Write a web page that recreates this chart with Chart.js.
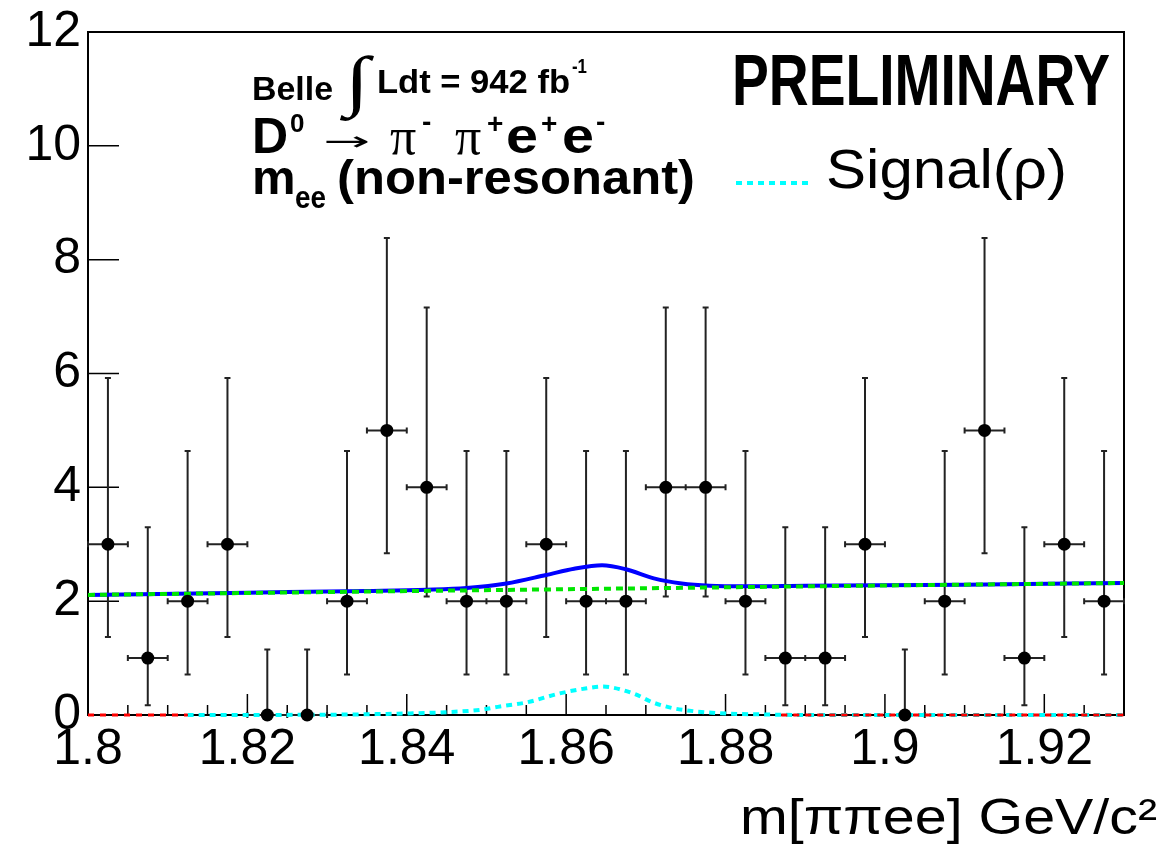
<!DOCTYPE html>
<html>
<head>
<meta charset="utf-8">
<script src="https://cdn.jsdelivr.net/npm/chart.js@4"></script>
<style>
  body { margin: 0; background: #fff; }
</style>
</head>
<body>
<canvas id="canvas" width="1163" height="850"></canvas>
<script>
// data points (bin centres, counts, Poisson error limits)
const binX = [1.8025, 1.8075, 1.8125, 1.8175, 1.8225, 1.8275, 1.8325, 1.8375, 1.8425, 1.8475, 1.8525, 1.8575, 1.8625,
              1.8675, 1.8725, 1.8775, 1.8825, 1.8875, 1.8925, 1.8975, 1.9025, 1.9075, 1.9125, 1.9175, 1.9225, 1.9275];
const counts = [3, 1, 2, 3, 0, 0, 2, 5, 4, 2, 2, 3, 2, 2, 4, 4, 2, 1, 1, 3, 0, 2, 5, 1, 3, 2];
const errLow = [1.37, 0.17, 0.71, 1.37, 0, 0, 0.71, 2.84, 2.08, 0.71, 0.71, 1.37, 0.71,
                0.71, 2.08, 2.08, 0.71, 0.17, 0.17, 1.37, 0, 0.71, 2.84, 0.17, 1.37, 0.71];
const errHigh = [5.92, 3.30, 4.64, 5.92, 1.15, 1.15, 4.64, 8.38, 7.16, 4.64, 4.64, 5.92, 4.64,
                 4.64, 7.16, 7.16, 4.64, 3.30, 3.30, 5.92, 1.15, 4.64, 8.38, 3.30, 5.92, 4.64];
const binHalf = 0.0025;

// fit curves
const totX = [1.80, 1.82, 1.835, 1.8425, 1.8475, 1.8525, 1.8575, 1.861, 1.8645, 1.8675, 1.871, 1.8745, 1.878, 1.8825, 1.89, 1.91, 1.93];
const totY = [2.11, 2.15, 2.18, 2.20, 2.23, 2.31, 2.46, 2.57, 2.63, 2.56, 2.40, 2.31, 2.27, 2.26, 2.27, 2.29, 2.32];
const bgX = [1.80, 1.83, 1.86, 1.89, 1.93];
const bgY = [2.11, 2.16, 2.21, 2.26, 2.32];
const sigX = [1.8125, 1.83, 1.8408, 1.845, 1.8492, 1.8517, 1.855, 1.8592, 1.8626, 1.8645, 1.8684, 1.8709, 1.8734, 1.8752, 1.8793, 1.885, 1.89, 1.93];
const sigY = [0, 0.005, 0.03, 0.05, 0.09, 0.15, 0.22, 0.38, 0.47, 0.50, 0.38, 0.22, 0.12, 0.08, 0.03, 0.01, 0, 0];
const redX = [1.80, 1.8125, 1.85, 1.887, 1.93];
const redY = [0, 0, null, 0, 0];

const xTickStep = 0.02;
const yTickStep = 2;

const FONT = '"Liberation Sans", Arial, sans-serif';
const SERIF = '"Liberation Serif", "Times New Roman", serif';

function pts(xs, ys) {
    return xs.map((x, i) => ({ x: x, y: ys[i] }));
}

// left-aligned text on a baseline, optionally stretched to a width
function fitText(ctx, str, x, y, font, width) {
    ctx.font = font;
    const w = ctx.measureText(str).width;
    const sx = width ? width / w : 1;
    ctx.save();
    ctx.translate(x, y);
    ctx.scale(sx, 1);
    ctx.fillText(str, 0, 0);
    ctx.restore();
}

// a single glyph scaled so its ink fills a box
function glyphBox(ctx, str, font, left, top, right, bottom) {
    ctx.font = font;
    const m = ctx.measureText(str);
    const w = m.actualBoundingBoxLeft + m.actualBoundingBoxRight;
    const h = m.actualBoundingBoxAscent + m.actualBoundingBoxDescent;
    ctx.save();
    ctx.translate(left, top);
    ctx.scale((right - left) / w, (bottom - top) / h);
    ctx.fillText(str, m.actualBoundingBoxLeft, m.actualBoundingBoxAscent);
    ctx.restore();
}

const rootStyle = {
    id: 'rootStyle',
    beforeDatasetsDraw(chart) {
        const ctx = chart.ctx;
        const a = chart.chartArea;
        const xs = chart.scales.x, ys = chart.scales.y;
        ctx.save();
        ctx.strokeStyle = '#000';
        ctx.lineWidth = 2;
        ctx.strokeRect(a.left, a.top, a.right - a.left, a.bottom - a.top);
        // y ticks (inside)
        ctx.lineWidth = 1.5;
        ctx.beginPath();
        for (let v = ys.min; v <= ys.max; v += yTickStep) {
            const py = ys.getPixelForValue(v);
            ctx.moveTo(a.left, py);
            ctx.lineTo(a.left + 31, py);
        }
        // x ticks (inside), minor every 0.005
        for (let k = 0; ; k++) {
            const v = xs.min + k * 0.005;
            if (v > xs.max + 1e-9) break;
            const px = xs.getPixelForValue(v);
            const len = (k % 4 === 0) ? 21 : 10;
            ctx.moveTo(px, a.bottom);
            ctx.lineTo(px, a.bottom - len);
        }
        ctx.stroke();

        // error bars
        ctx.strokeStyle = '#222';
        ctx.lineWidth = 2;
        ctx.beginPath();
        binX.forEach((x, i) => {
            const px = xs.getPixelForValue(x);
            const py = ys.getPixelForValue(counts[i]);
            const pLo = ys.getPixelForValue(errLow[i]);
            const pHi = ys.getPixelForValue(errHigh[i]);
            const pL = xs.getPixelForValue(x - binHalf);
            const pR = xs.getPixelForValue(x + binHalf);
            ctx.moveTo(px, pLo); ctx.lineTo(px, pHi);
            ctx.moveTo(px - 3, pHi); ctx.lineTo(px + 3, pHi);
            if (errLow[i] > 0) { ctx.moveTo(px - 3, pLo); ctx.lineTo(px + 3, pLo); }
            ctx.moveTo(pL, py); ctx.lineTo(pR, py);
            ctx.moveTo(pL, py - 3); ctx.lineTo(pL, py + 3);
            ctx.moveTo(pR, py - 3); ctx.lineTo(pR, py + 3);
        });
        ctx.stroke();
        ctx.restore();
    },
    afterDraw(chart) {
        const ctx = chart.ctx;
        ctx.save();
        ctx.fillStyle = '#000';
        ctx.textBaseline = 'alphabetic';
        // line 1
        fitText(ctx, 'Belle', 252, 100, 'bold 33px ' + FONT, 81);
        glyphBox(ctx, '\u222B', 'bold 90px ' + SERIF, 340, 55, 375, 122);
        fitText(ctx, 'Ldt = 942 fb', 377, 93, 'bold 34px ' + FONT, 193);
        fitText(ctx, '-1', 572, 73, 'bold 21px ' + FONT, 15);
        // line 2
        fitText(ctx, 'D', 252, 153, 'bold 50px ' + FONT);
        fitText(ctx, '0', 290, 132, 'bold 26px ' + FONT);
        glyphBox(ctx, '\u2192', '60px "DejaVu Sans", ' + FONT, 326, 136, 368, 148);
        fitText(ctx, '\u03C0', 390, 154, '52px ' + SERIF);
        fitText(ctx, '-', 422, 131, 'bold 28px ' + FONT);
        fitText(ctx, '\u03C0', 455, 154, '52px ' + SERIF);
        fitText(ctx, '+', 487, 133, 'bold 28px ' + FONT);
        fitText(ctx, 'e', 506, 153, 'bold 50px ' + FONT, 32);
        fitText(ctx, '+', 541, 133, 'bold 28px ' + FONT);
        fitText(ctx, 'e', 562, 153, 'bold 50px ' + FONT, 32);
        fitText(ctx, '-', 596, 131, 'bold 28px ' + FONT);
        // line 3
        fitText(ctx, 'm', 252, 194, 'bold 49px ' + FONT);
        fitText(ctx, 'ee', 295, 208, 'bold 31px ' + FONT, 31);
        fitText(ctx, '(non-resonant)', 337, 194, 'bold 49px ' + FONT, 358);
        // preliminary
        fitText(ctx, 'PRELIMINARY', 732, 105, 'bold 72px "Liberation Sans Narrow", ' + FONT, 378);
        // legend
        ctx.strokeStyle = '#00ffff';
        ctx.lineWidth = 4;
        ctx.setLineDash([6, 5]);
        ctx.beginPath();
        ctx.moveTo(736, 183); ctx.lineTo(808, 183);
        ctx.stroke();
        ctx.setLineDash([]);
        fitText(ctx, 'Signal(\u03C1)', 826, 188, '56px ' + FONT, 241);
        // axis title
        fitText(ctx, 'm[\u03C0\u03C0ee] GeV/c\u00B2', 740, 834, '50px ' + FONT, 417);
        ctx.restore();
    }
};

const tickFont = { family: FONT, size: 50 };

const config = {
    type: 'scatter',
    data: {
        datasets: [
            {
                label: 'Data',
                data: pts(binX, counts),
                pointRadius: 6.5,
                pointBackgroundColor: '#000',
                pointBorderColor: '#000',
                pointBorderWidth: 0,
                showLine: false,
                clip: false,
                order: 0
            },
            {
                label: 'Background',
                data: pts(bgX, bgY),
                showLine: true,
                borderColor: '#00e600',
                borderWidth: 4,
                borderDash: [7, 5],
                pointRadius: 0,
                order: 1
            },
            {
                label: 'Total',
                data: pts(totX, totY),
                showLine: true,
                borderColor: '#0000ff',
                borderWidth: 4,
                cubicInterpolationMode: 'monotone',
                pointRadius: 0,
                order: 2
            },
            {
                label: 'Other',
                data: pts(redX, redY),
                showLine: true,
                spanGaps: false,
                borderColor: '#ff0000',
                borderWidth: 3,
                borderDash: [6, 6],
                pointRadius: 0,
                clip: false,
                order: 3
            },
            {
                label: 'Signal(\u03C1)',
                data: pts(sigX, sigY),
                showLine: true,
                borderColor: '#00ffff',
                borderWidth: 4,
                borderDash: [6, 5],
                cubicInterpolationMode: 'monotone',
                pointRadius: 0,
                clip: false,
                order: 4
            }
        ]
    },
    options: {
        responsive: false,
        animation: false,
        devicePixelRatio: 1,
        layout: { padding: { left: 0, right: 39, top: 32, bottom: 0 } },
        plugins: { legend: { display: false }, tooltip: { enabled: false } },
        scales: {
            x: {
                type: 'linear',
                min: 1.8,
                max: 1.93,
                afterFit(s) { s.height = 135; s.paddingLeft = 0; s.paddingRight = 0; },
                grid: { display: false, drawTicks: false },
                border: { display: false },
                ticks: {
                    stepSize: xTickStep,
                    includeBounds: false,
                    autoSkip: false,
                    maxRotation: 0,
                    minRotation: 0,
                    padding: 5,
                    color: '#000',
                    font: tickFont,
                    callback: v => parseFloat(v.toFixed(3)).toString()
                }
            },
            y: {
                min: 0,
                max: 12,
                afterFit(s) { s.width = 88; s.paddingTop = 0; s.paddingBottom = 0; },
                grid: { display: false, drawTicks: false },
                border: { display: false },
                ticks: {
                    stepSize: yTickStep,
                    padding: 7,
                    color: '#000',
                    font: tickFont
                }
            }
        }
    },
    plugins: [rootStyle]
};

var canvas = document.getElementById('canvas');
const chart = new Chart(canvas, config);
</script>
</body>
</html>
